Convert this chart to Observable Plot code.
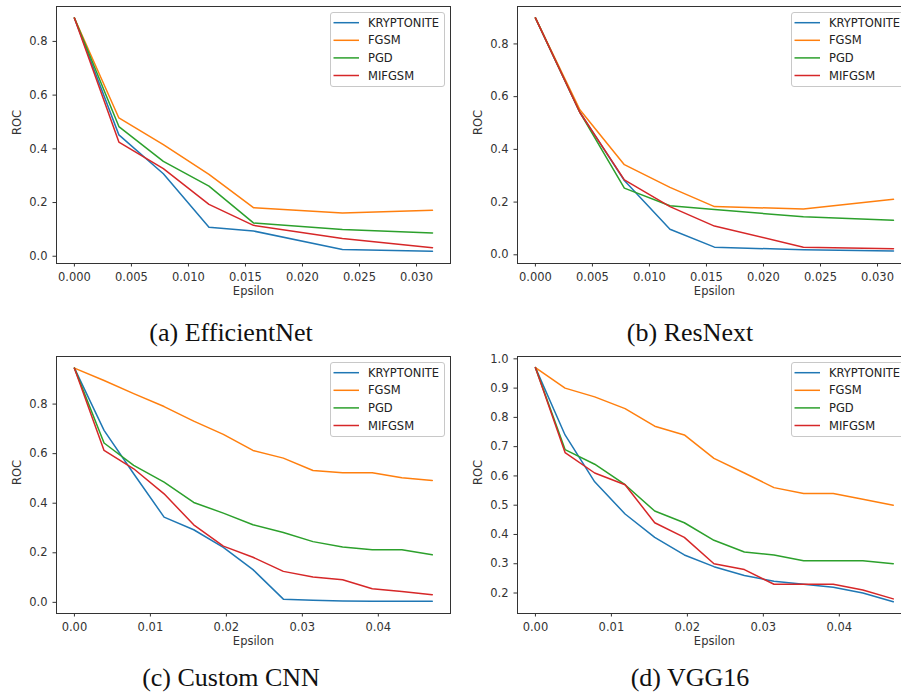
<!DOCTYPE html>
<html>
<head>
<meta charset="utf-8">
<script src="https://cdn.jsdelivr.net/npm/d3@7"></script>
<script src="https://cdn.jsdelivr.net/npm/@observablehq/plot@0.6"></script>
<style>
  html, body { margin: 0; padding: 0; background: #fff; }
  #root { position: relative; width: 901px; height: 696px; overflow: hidden; background: #fff; }
  .cap { position: absolute; width: 400px; text-align: center; font-family: "Liberation Serif", "DejaVu Serif", serif; font-size: 26px; line-height: 26px; color: #111; white-space: nowrap; }
</style>
</head>
<body>
<div id="root"></div>
<script>
// ---- data ----
const series = ["KRYPTONITE", "FGSM", "PGD", "MIFGSM"];
const seriesColors = ["#1f77b4", "#ff7f0e", "#2ca02c", "#d62728"];

const epsShort = [0, 0.0039, 0.0078, 0.0118, 0.0157, 0.0235, 0.0314];
const epsLong = [0, 0.0039, 0.0078, 0.0118, 0.0157, 0.0196, 0.0235, 0.0275, 0.0314, 0.0353, 0.0392, 0.0431, 0.0471];

// (a) EfficientNet
const effK = [0.887, 0.452, 0.307, 0.108, 0.094, 0.025, 0.019];
const effF = [0.887, 0.515, 0.416, 0.305, 0.181, 0.161, 0.171];
const effP = [0.887, 0.483, 0.353, 0.261, 0.124, 0.100, 0.087];
const effM = [0.887, 0.425, 0.326, 0.193, 0.115, 0.066, 0.032];

// (b) ResNext
const resK = [0.899, 0.541, 0.282, 0.097, 0.029, 0.019, 0.014];
const resF = [0.899, 0.550, 0.342, 0.256, 0.183, 0.174, 0.211];
const resP = [0.899, 0.540, 0.253, 0.186, 0.172, 0.144, 0.131];
const resM = [0.899, 0.540, 0.284, 0.183, 0.109, 0.029, 0.023];

// (c) Custom CNN
const cnnK = [0.945, 0.694, 0.519, 0.344, 0.293, 0.222, 0.132, 0.013, 0.008, 0.005, 0.004, 0.004, 0.004];
const cnnF = [0.945, 0.895, 0.842, 0.790, 0.731, 0.678, 0.613, 0.582, 0.532, 0.523, 0.523, 0.503, 0.492];
const cnnP = [0.945, 0.643, 0.553, 0.485, 0.403, 0.360, 0.313, 0.282, 0.245, 0.223, 0.212, 0.212, 0.192];
const cnnM = [0.945, 0.613, 0.539, 0.438, 0.313, 0.227, 0.182, 0.125, 0.102, 0.091, 0.055, 0.044, 0.031];

// (d) VGG16
const vggK = [0.97, 0.74, 0.58, 0.47, 0.39, 0.33, 0.29, 0.26, 0.24, 0.23, 0.22, 0.20, 0.17];
const vggF = [0.97, 0.90, 0.87, 0.83, 0.77, 0.74, 0.66, 0.61, 0.56, 0.54, 0.54, 0.52, 0.50];
const vggP = [0.97, 0.69, 0.64, 0.57, 0.48, 0.44, 0.38, 0.34, 0.33, 0.31, 0.31, 0.31, 0.30];
const vggM = [0.97, 0.68, 0.61, 0.57, 0.44, 0.39, 0.30, 0.28, 0.23, 0.23, 0.23, 0.21, 0.18];

// tick labels
const xTicksShort = [0, 0.005, 0.010, 0.015, 0.020, 0.025, 0.030];
const xTicksLong = [0, 0.01, 0.02, 0.03, 0.04];
const yTicksLow = [0, 0.2, 0.4, 0.6, 0.8];
const yTicksVgg = [0.2, 0.3, 0.4, 0.5, 0.6, 0.7, 0.8, 0.9, 1.0];

const captions = ["(a) EfficientNet", "(b) ResNext", "(c) Custom CNN", "(d) VGG16"];
const xLabel = "Epsilon";
const yLabel = "ROC";

// ---- build ----
function toRows(eps, arrays) {
  const rows = [];
  arrays.forEach((vals, si) => {
    vals.forEach((v, i) => rows.push({eps: eps[i], roc: v, series: series[si]}));
  });
  return rows;
}

const root = document.getElementById("root");
const FONT = "DejaVu Sans";
const INK = "#333";
const FS = 11.5;

function panel({rows, left, top, width, marginLeft, marginRight, xDomain, yDomain, xTicks, xFmt, yTicks, yFmt}) {
  const height = 310, marginTop = 6, marginBottom = 47;
  const svg = Plot.plot({
    width, height, marginLeft, marginRight, marginTop, marginBottom,
    style: {fontFamily: FONT, fontSize: FS + "px", color: INK, background: "transparent", overflow: "visible"},
    x: {domain: xDomain},
    y: {domain: yDomain},
    color: {domain: series, range: seriesColors},
    marks: [
      Plot.axisX({ticks: xTicks, tickFormat: d3.format(xFmt), tickSize: 3.5, tickPadding: 6, label: null, fontSize: FS, stroke: INK, fill: INK}),
      Plot.axisY({ticks: yTicks, tickFormat: d3.format(yFmt), tickSize: 3.5, tickPadding: 5.5, label: null, fontSize: FS, stroke: INK, fill: INK}),
      Plot.line(rows, {x: "eps", y: "roc", stroke: "series", z: "series", strokeWidth: 1.5}),
      Plot.text([xLabel], {text: d => d, frameAnchor: "bottom", dy: 31, fontSize: FS, fill: INK}),
      Plot.text([yLabel], {text: d => d, frameAnchor: "left", dx: -39, rotate: -90, fontSize: FS, fill: INK}),
      Plot.frame({stroke: INK, strokeWidth: 1})
    ]
  });
  svg.style.position = "absolute";
  svg.style.left = left + "px";
  svg.style.top = top + "px";

  // legend (matplotlib style, upper right inside axes)
  const g = d3.select(svg).append("g")
    .attr("transform", `translate(${marginLeft},${marginTop})`)
    .attr("font-family", FONT).attr("font-size", FS)
    .attr("text-anchor", "start");
  g.append("rect")
    .attr("x", 274.5).attr("y", 6.5).attr("width", 114).attr("height", 74)
    .attr("rx", 2.5).attr("ry", 2.5)
    .style("fill", "#ffffff").style("fill-opacity", 0.8)
    .style("stroke", "#c8c8c8").style("stroke-width", "1px");
  series.forEach((s, i) => {
    const yy = 16.7 + i * 17.6;
    g.append("line").attr("x1", 277.5).attr("x2", 303).attr("y1", yy).attr("y2", yy)
      .style("stroke", seriesColors[i]).style("stroke-width", "1.5px");
    g.append("text").attr("x", 312).attr("y", yy).attr("dy", "0.35em")
      .attr("text-anchor", "start")
      .style("fill", "#222").text(s);
  });
  root.appendChild(svg);
}

panel({rows: toRows(epsShort, [effK, effF, effP, effM]), left: 0, top: 0, width: 460, marginLeft: 56, marginRight: 10,
  xDomain: [-0.00157, 0.03298], yDomain: [-0.027, 0.93], xTicks: xTicksShort, xFmt: ".3f", yTicks: yTicksLow, yFmt: ".1f"});
panel({rows: toRows(epsShort, [resK, resF, resP, resM]), left: 450, top: 0, width: 470, marginLeft: 67, marginRight: 9,
  xDomain: [-0.00157, 0.03298], yDomain: [-0.033, 0.942], xTicks: xTicksShort, xFmt: ".3f", yTicks: yTicksLow, yFmt: ".1f"});
panel({rows: toRows(epsLong, [cnnK, cnnF, cnnP, cnnM]), left: 0, top: 350, width: 460, marginLeft: 56, marginRight: 10,
  xDomain: [-0.00236, 0.0495], yDomain: [-0.045, 0.992], xTicks: xTicksLong, xFmt: ".2f", yTicks: yTicksLow, yFmt: ".1f"});
panel({rows: toRows(epsLong, [vggK, vggF, vggP, vggM]), left: 450, top: 350, width: 470, marginLeft: 67, marginRight: 9,
  xDomain: [-0.00236, 0.0495], yDomain: [0.13, 1.008], xTicks: xTicksLong, xFmt: ".2f", yTicks: yTicksVgg, yFmt: ".1f"});

// captions
const capPos = [[231, 320], [690, 320], [231, 665], [690, 665]];
captions.forEach((c, i) => {
  const d = document.createElement("div");
  d.className = "cap";
  d.textContent = c;
  d.style.left = (capPos[i][0] - 200) + "px";
  d.style.top = capPos[i][1] + "px";
  root.appendChild(d);
});
</script>
</body>
</html>
